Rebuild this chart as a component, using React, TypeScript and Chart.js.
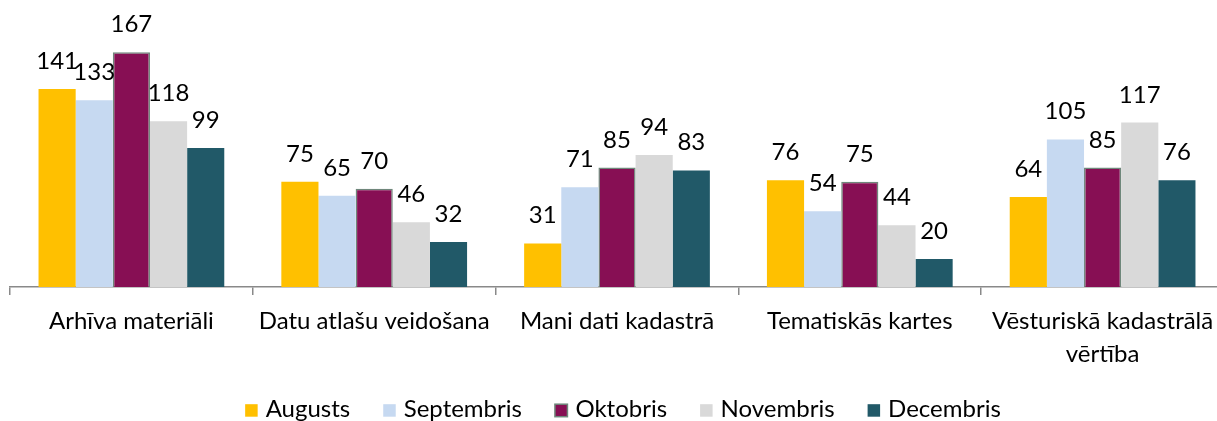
import { useEffect, useRef } from "react";
import { Chart, registerables } from "chart.js";

Chart.register(...registerables);

const categories: (string | string[])[] = [
  "Arhīva materiāli",
  "Datu atlašu veidošana",
  "Mani dati kadastrā",
  "Tematiskās kartes",
  ["Vēsturiskā kadastrālā", "vērtība"],
];

const seriesNames = ["Augusts", "Septembris", "Oktobris", "Novembris", "Decembris"];
const augusts = [141, 75, 31, 76, 64];
const septembris = [133, 65, 71, 54, 105];
const oktobris = [167, 70, 85, 75, 85];
const novembris = [118, 46, 94, 44, 117];
const decembris = [99, 32, 83, 20, 76];

const colors = ["#FFC000", "#C6D9F1", "#870F54", "#D9D9D9", "#215968"];
const borderColors = ["#FFC000", "#C6D9F1", "#6F877B", "#D9D9D9", "#215968"];
const borderWidths = [0, 0, 1.5, 0, 0];

const FONT = "Lato";
const FONT_SIZE = 24;

const dataLabelPlugin = {
  id: "dataLabels",
  afterDatasetsDraw(chart: any) {
    const ctx = chart.ctx;
    ctx.save();
    ctx.font = `${FONT_SIZE}px ${FONT}`;
    ctx.fillStyle = "#000000";
    ctx.textAlign = "center";
    ctx.textBaseline = "alphabetic";
    chart.data.datasets.forEach((ds: any, i: number) => {
      const meta = chart.getDatasetMeta(i);
      meta.data.forEach((el: any, j: number) => {
        ctx.fillText(String(ds.data[j]), el.x, el.y - 20);
      });
    });
    ctx.restore();
  },
};

const legendPlugin = {
  id: "customLegend",
  afterDraw(chart: any) {
    const ctx = chart.ctx;
    ctx.save();
    ctx.font = `${FONT_SIZE}px ${FONT}`;
    ctx.textBaseline = "alphabetic";
    ctx.textAlign = "left";
    const box = 12.5;
    const gapText = 8;
    const gapItem = 33;
    const widths = chart.data.datasets.map((ds: any) => ctx.measureText(ds.label).width);
    const total =
      widths.reduce((a: number, w: number) => a + box + gapText + w, 0) + gapItem * (widths.length - 1);
    let x = 623 - total / 2;
    const baseY = 416.7;
    chart.data.datasets.forEach((ds: any, i: number) => {
      ctx.fillStyle = ds.backgroundColor;
      ctx.fillRect(x, baseY - box, box, box);
      if (ds.borderWidth > 0) {
        ctx.strokeStyle = ds.borderColor;
        ctx.lineWidth = 1.5;
        ctx.strokeRect(x, baseY - box, box, box);
      }
      ctx.fillStyle = "#000000";
      ctx.fillText(ds.label, x + box + gapText, baseY);
      x += box + gapText + widths[i] + gapItem;
    });
    ctx.restore();
  },
};

export default function App() {
  const ref = useRef<HTMLCanvasElement>(null);
  useEffect(() => {
    if (!ref.current) return;
    const values = [augusts, septembris, oktobris, novembris, decembris];
    const chart = new Chart(ref.current, {
      type: "bar",
      data: {
        labels: categories,
        datasets: seriesNames.map((name, i) => ({
          label: name,
          data: values[i],
          backgroundColor: colors[i],
          borderColor: borderColors[i],
          borderWidth: borderWidths[i],
          barPercentage: 1,
          categoryPercentage: 0.765,
        })),
      },
      options: {
        animation: false,
        responsive: false,
        devicePixelRatio: 1,
        layout: { padding: { top: 6, left: 10, right: 0, bottom: 0 } },
        plugins: { legend: { display: false }, tooltip: { enabled: false } },
        scales: {
          y: { display: false, min: 0, max: 200 },
          x: {
            afterFit: (s: any) => {
              s.height = 134;
            },
            border: { color: "#898989", width: 1.5 },
            grid: {
              drawOnChartArea: false,
              drawTicks: true,
              tickLength: 8,
              color: "#898989",
              lineWidth: 1.5,
            },
            ticks: {
              color: "#000000",
              font: { family: FONT, size: FONT_SIZE, lineHeight: 1.4 },
              padding: 9,
              maxRotation: 0,
              autoSkip: false,
            },
          },
        },
      },
      plugins: [dataLabelPlugin, legendPlugin],
    });
    return () => chart.destroy();
  }, []);
  return (
    <div
      style={{
        position: "fixed",
        left: 0,
        top: 0,
        width: 1217,
        height: 421,
        overflow: "hidden",
        background: "#fff",
      }}
    >
      <canvas ref={ref} width={1224} height={421} style={{ display: "block" }} />
    </div>
  );
}
